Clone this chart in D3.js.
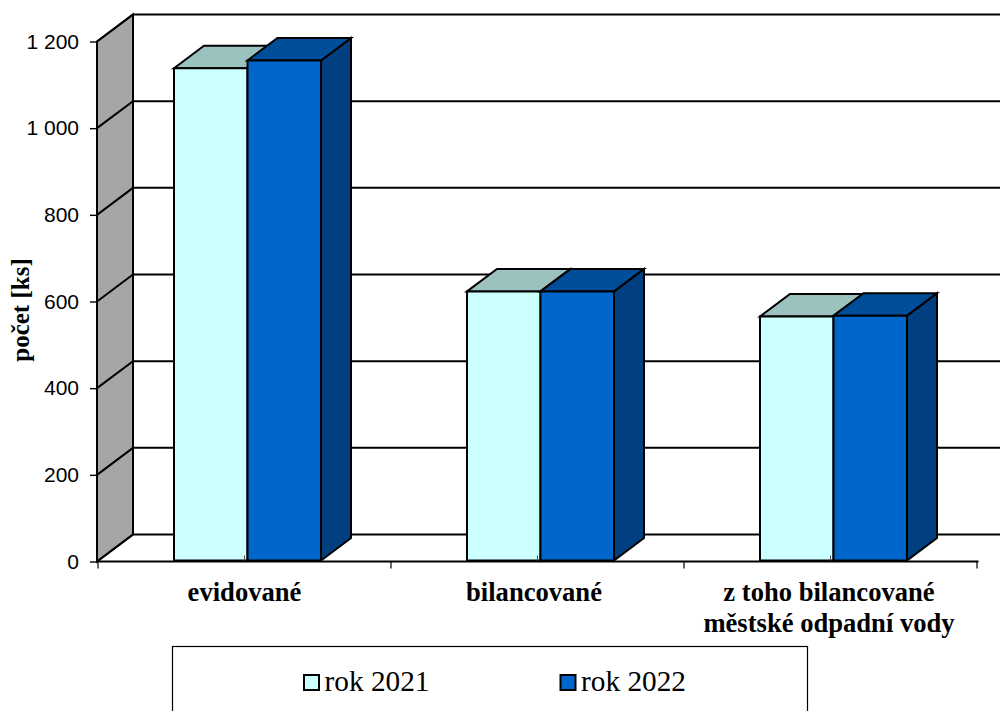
<!DOCTYPE html>
<html lang="cs">
<head>
<meta charset="utf-8">
<script src="https://cdn.jsdelivr.net/npm/d3@7"></script>
<style>
  html, body { margin: 0; padding: 0; background: #fff; overflow: hidden; }
  svg { display: block; }
  .serif { font-family: "Liberation Serif", serif; fill: #000; }
</style>
</head>
<body>
<svg id="chart" width="1000" height="711"></svg>
<script>
// Počet čistíren: evidované a bilancované, srovnání let 2021 a 2022
const categories = ["evidované", "bilancované", "z toho bilancované|městské odpadní vody"];
const seriesNames = ["rok 2021", "rok 2022"];
const values2021 = [1136, 621, 563];
const values2022 = [1154, 621, 565];
const yTicks = [0, 200, 400, 600, 800, 1000, 1200];
const seriesColors = [
  { front: "#ccffff", top: "#9cc2c0", side: "#8fb3b3" },
  { front: "#0066cc", top: "#004d99", side: "#004080" }
];
const labelNudge = [0, -3.5, -1.5];

const svg = d3.select("#chart");
const ink = "#000";

// Plot frame and the oblique offset of the back wall
const left = 98, right = 977, base = 561.5, ceiling = 41.5;
const wallDx = 36, wallDy = -27;
const barDx = 30, barDy = -22.5;

const y = d3.scaleLinear().domain([0, 1200]).range([base, ceiling]);
const x0 = d3.scaleBand().domain(categories).range([left, right]);
const x1 = d3.scaleBand().domain(seriesNames).range([76, 76 + 147]);
const poly = d3.line();

// Left wall
svg.append("path")
  .attr("d", poly([[left - 1, y(0)], [left - 1, y(1200)], [left - 1 + wallDx, y(1200) + wallDy], [left - 1 + wallDx, y(0) + wallDy]]) + "Z")
  .attr("fill", "#a6a6a6")
  .attr("stroke", ink).attr("stroke-width", 2);

// Gridlines along the back wall, with their diagonals across the side wall
const grid = svg.append("g").attr("stroke", ink).attr("stroke-width", 2).attr("fill", "none");
yTicks.forEach(t => {
  grid.append("path").attr("d", poly([
    [left - 1, y(t)],
    [left - 1 + wallDx, y(t) + wallDy],
    [1000, y(t) + wallDy]
  ]));
});

// Value axis
const yAxis = d3.axisLeft(y)
  .tickValues(yTicks)
  .tickSize(7)
  .tickPadding(11)
  .tickFormat(d => d3.format(",")(d).replace(",", " "));
const yG = svg.append("g").attr("transform", `translate(${left - 1},0)`).call(yAxis);
yG.select(".domain").remove();
yG.selectAll("line").attr("stroke", ink).attr("stroke-width", 1.4);
yG.selectAll("text")
  .attr("font-size", 21)
  .style("font-family", '"Liberation Sans", sans-serif')
  .attr("fill", "#000");

// Category axis runs along the floor's front edge
const baseline = svg.append("g");
baseline.append("line")
  .attr("x1", left - 1).attr("x2", right + 1.5)
  .attr("y1", base).attr("y2", base)
  .attr("stroke", ink).attr("stroke-width", 2);
[...categories.map(c => x0(c)), right].forEach(tx => {
  baseline.append("line")
    .attr("x1", tx).attr("x2", tx)
    .attr("y1", base).attr("y2", base + 7)
    .attr("stroke", ink).attr("stroke-width", 1.2);
});

// Bars: side face, top face, then front face for every series
const rows = categories.map((c, i) => [
  { cat: c, name: seriesNames[0], value: values2021[i], color: seriesColors[0] },
  { cat: c, name: seriesNames[1], value: values2022[i], color: seriesColors[1] }
]);
const barBase = base - 1;
const valueHeight = v => y(0) - y(v);

rows.forEach(group => {
  const g = svg.append("g").attr("stroke", ink).attr("stroke-width", 2).attr("stroke-linejoin", "miter");
  group.forEach(d => {
    const xl = x0(d.cat) + x1(d.name);
    const xr = xl + x1.bandwidth();
    const yt = barBase - valueHeight(d.value);
    g.append("path")
      .attr("fill", d.color.side)
      .attr("d", poly([[xr, yt], [xr + barDx, yt + barDy], [xr + barDx, barBase + barDy], [xr, barBase]]) + "Z");
    g.append("path")
      .attr("fill", d.color.top)
      .attr("d", poly([[xl, yt], [xl + barDx, yt + barDy], [xr + barDx, yt + barDy], [xr, yt]]) + "Z");
    g.append("path")
      .attr("fill", d.color.front)
      .attr("d", poly([[xl, yt], [xr, yt], [xr, barBase], [xl, barBase]]) + "Z");
  });
  // Small centre mark of the category, showing at the foot of the first bar
  const mid = x0(group[0].cat) + x0.bandwidth() / 2;
  svg.append("line")
    .attr("x1", mid).attr("x2", mid)
    .attr("y1", barBase - 5).attr("y2", barBase)
    .attr("stroke", "#555").attr("stroke-width", 1);
});

// Category labels
categories.forEach((c, k) => {
  const cx = x0(c) + x0.bandwidth() / 2 + labelNudge[k];
  const t = svg.append("text")
    .attr("class", "serif")
    .attr("text-anchor", "middle")
    .attr("font-size", 26.6)
    .attr("font-weight", "bold");
  c.split("|").forEach((line, i) => {
    t.append("tspan").attr("x", cx).attr("y", 601 + i * 31).text(line);
  });
});

// Axis title
svg.append("text")
  .attr("class", "serif")
  .attr("transform", "translate(29,310) rotate(-90)")
  .attr("text-anchor", "middle")
  .attr("font-size", 25)
  .attr("font-weight", "bold")
  .text("počet [ks]");

// Legend, its frame runs past the lower edge
const legendX = d3.scalePoint().domain(seriesNames).range([304, 560.5]);
svg.append("rect")
  .attr("x", 172.5).attr("y", 646.5)
  .attr("width", 635).attr("height", 80)
  .attr("fill", "#fff").attr("stroke", ink).attr("stroke-width", 1.2);
seriesNames.forEach((name, i) => {
  svg.append("rect")
    .attr("x", legendX(name)).attr("y", 675)
    .attr("width", 15).attr("height", 15)
    .attr("fill", seriesColors[i].front)
    .attr("stroke", ink).attr("stroke-width", 2);
  svg.append("text")
    .attr("class", "serif")
    .attr("x", legendX(name) + 20.5).attr("y", 691)
    .attr("font-size", 29.3)
    .text(name);
});
</script>
</body>
</html>
